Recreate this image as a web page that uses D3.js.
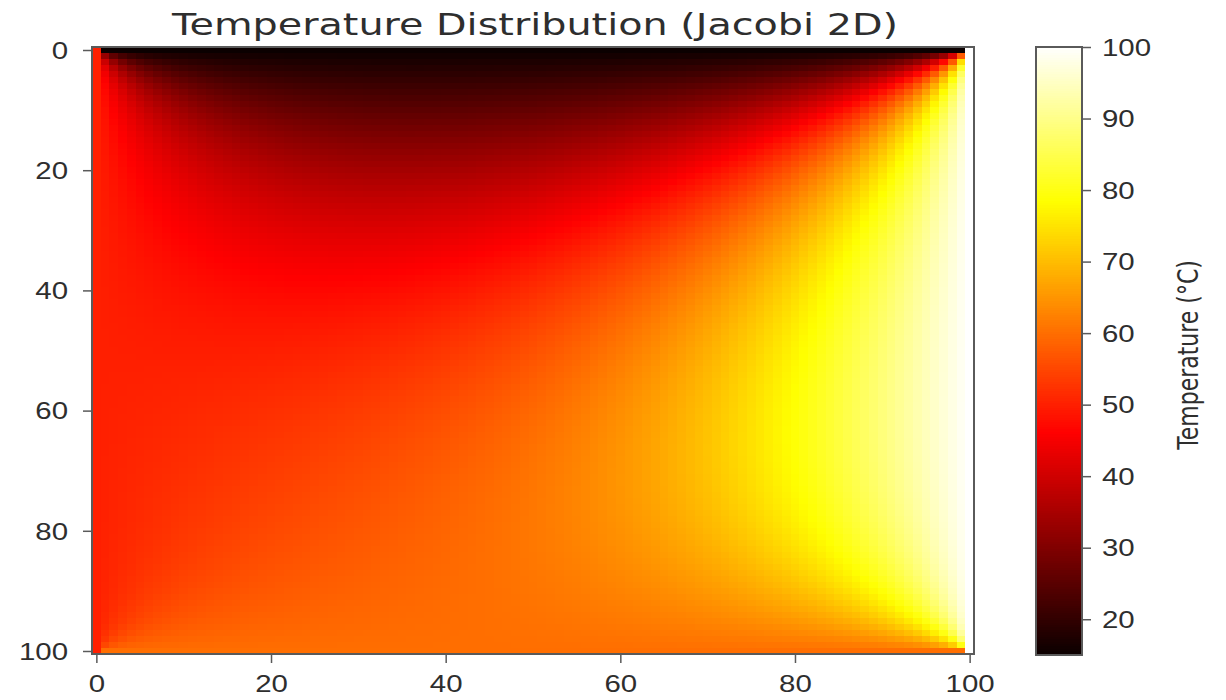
<!DOCTYPE html>
<html>
<head>
<meta charset="utf-8">
<script src="https://cdn.jsdelivr.net/npm/d3@7"></script>
<style>
  html, body { margin: 0; padding: 0; background: #fff; }
  svg { display: block; font-family: 'DejaVu Sans', sans-serif; }
</style>
</head>
<body>
<div id="chart"></div>
<script>
/* Data */
const GRID_SIZE = 101;
const boundarySides = ['top', 'bottom', 'left', 'right']; // assignment order (corners go to later sides)
const boundaryTemps = [15, 60, 50, 100];                    // °C
const xTickValues = [0, 20, 40, 60, 80, 100];
const yTickValues = [0, 20, 40, 60, 80, 100];
const colorbarTicks = [20, 30, 40, 50, 60, 70, 80, 90, 100];
const titleText = 'Temperature Distribution (Jacobi 2D)';
const colorbarLabel = 'Temperature (°C)';
const JACOBI_ITERATIONS = 20000;

/* Layout */
const WIDTH = 1226;
const HEIGHT = 700;
const plot = { left: 92, right: 974, top: 47, bottom: 654 };
const cbar = { left: 1036, right: 1082, top: 47, bottom: 655 };
const TEXT_STRETCH = 1.28; // the reference is stretched horizontally
const TEXT_COLOR = '#2e2e2e';
const SPINE_COLOR = '#5a5a5a';

// matplotlib "hot" colormap
function hot (t) {
  t = Math.max(0, Math.min(1, t));
  const r = t < 0.365079 ? 0.0416 + (1 - 0.0416) * t / 0.365079 : 1;
  const g = t < 0.365079 ? 0 : t < 0.746032 ? (t - 0.365079) / (0.746032 - 0.365079) : 1;
  const b = t < 0.746032 ? 0 : (t - 0.746032) / (1 - 0.746032);
  return d3.rgb(r * 255, g * 255, b * 255).toString();
}

// Steady state of the plate by Jacobi relaxation, from the boundary temperatures.
function solveJacobi () {
  const n = GRID_SIZE;
  const temp = Object.fromEntries(boundarySides.map((s, i) => [s, boundaryTemps[i]]));
  let u = new Float64Array(n * n).fill(d3.mean(boundaryTemps));
  const setBoundary = (arr) => {
    boundarySides.forEach(side => {
      for (let k = 0; k < n; k++) {
        if (side === 'top') arr[k] = temp.top;
        if (side === 'bottom') arr[(n - 1) * n + k] = temp.bottom;
        if (side === 'left') arr[k * n] = temp.left;
        if (side === 'right') arr[k * n + n - 1] = temp.right;
      }
    });
  };
  setBoundary(u);
  let next = u.slice();
  for (let it = 0; it < JACOBI_ITERATIONS; it++) {
    for (let i = 1; i < n - 1; i++) {
      const row = i * n;
      for (let j = 1; j < n - 1; j++) {
        next[row + j] = 0.25 * (u[row - n + j] + u[row + n + j] + u[row + j - 1] + u[row + j + 1]);
      }
    }
    const tmp = u; u = next; next = tmp;
  }
  const cells = [];
  for (let i = 0; i < n; i++) {
    for (let j = 0; j < n; j++) cells.push({ row: i, col: j, value: u[i * n + j] });
  }
  return cells;
}

const cells = solveJacobi();
const extent = d3.extent(cells, d => d.value);

const svg = d3.select('#chart')
  .append('svg')
  .attr('width', WIDTH)
  .attr('height', HEIGHT);

const xScale = d3.scaleLinear().domain([-0.5, GRID_SIZE - 0.5]).range([plot.left, plot.right]);
const yScale = d3.scaleLinear().domain([-0.5, GRID_SIZE - 0.5]).range([plot.top, plot.bottom]);
const color = d3.scaleSequential(hot).domain(extent);

// Heat map cells
svg.append('g')
  .attr('shape-rendering', 'crispEdges')
  .selectAll('rect')
  .data(cells)
  .join('rect')
  .attr('x', d => xScale(d.col - 0.5))
  .attr('y', d => yScale(d.row - 0.5))
  .attr('width', d => xScale(d.col + 0.5) - xScale(d.col - 0.5) + 0.6)
  .attr('height', d => yScale(d.row + 0.5) - yScale(d.row - 0.5) + 0.6)
  .attr('fill', d => color(d.value));

function styleAxis (g) {
  g.select('.domain').remove();
  g.selectAll('.tick line').attr('stroke', SPINE_COLOR).attr('stroke-width', 1.5);
  g.selectAll('.tick text')
    .attr('fill', TEXT_COLOR)
    .style('font-size', '23px');
}

// X axis
svg.append('g')
  .attr('transform', `translate(0,${plot.bottom})`)
  .call(d3.axisBottom(xScale).tickValues(xTickValues).tickSize(9).tickSizeOuter(0))
  .call(styleAxis)
  .call(g => g.selectAll('.tick text')
    .attr('y', 38)
    .attr('dy', 0)
    .attr('transform', `scale(${TEXT_STRETCH},1)`));

// Y axis
svg.append('g')
  .attr('transform', `translate(${plot.left},0)`)
  .call(d3.axisLeft(yScale).tickValues(yTickValues).tickSize(9).tickSizeOuter(0))
  .call(styleAxis)
  .call(g => g.selectAll('.tick text')
    .attr('x', -24 / TEXT_STRETCH)
    .attr('dy', '0.36em')
    .attr('transform', `scale(${TEXT_STRETCH},1)`));

// Frame
svg.append('rect')
  .attr('x', plot.left)
  .attr('y', plot.top)
  .attr('width', plot.right - plot.left)
  .attr('height', plot.bottom - plot.top)
  .attr('fill', 'none')
  .attr('stroke', SPINE_COLOR)
  .attr('stroke-width', 2);

// Title
svg.append('text')
  .attr('x', 535)
  .attr('y', 35)
  .attr('text-anchor', 'middle')
  .attr('textLength', 726)
  .attr('lengthAdjust', 'spacingAndGlyphs')
  .attr('fill', TEXT_COLOR)
  .style('font-size', '30px')
  .text(titleText);

// Colorbar
const cbScale = d3.scaleLinear().domain(extent).range([cbar.bottom, cbar.top]);
const cbSteps = d3.range(0, 256).map(k => extent[0] + (extent[1] - extent[0]) * k / 255);
const cbStep = (extent[1] - extent[0]) / 255;

svg.append('g')
  .attr('shape-rendering', 'crispEdges')
  .selectAll('rect')
  .data(cbSteps)
  .join('rect')
  .attr('x', cbar.left)
  .attr('width', cbar.right - cbar.left)
  .attr('y', d => cbScale(Math.min(extent[1], d + cbStep)))
  .attr('height', d => cbScale(d) - cbScale(Math.min(extent[1], d + cbStep)) + 1)
  .attr('fill', d => color(d));

svg.append('rect')
  .attr('x', cbar.left)
  .attr('y', cbar.top)
  .attr('width', cbar.right - cbar.left)
  .attr('height', cbar.bottom - cbar.top)
  .attr('fill', 'none')
  .attr('stroke', SPINE_COLOR)
  .attr('stroke-width', 2);

svg.append('g')
  .attr('transform', `translate(${cbar.right},0)`)
  .call(d3.axisRight(cbScale).tickValues(colorbarTicks).tickSize(9).tickSizeOuter(0))
  .call(styleAxis)
  .call(g => g.selectAll('.tick text')
    .attr('x', 20 / TEXT_STRETCH)
    .attr('dy', '0.36em')
    .attr('transform', `scale(${TEXT_STRETCH},1)`));

svg.append('text')
  .attr('transform', `translate(1198,355) scale(${TEXT_STRETCH},1) rotate(-90)`)
  .attr('text-anchor', 'middle')
  .attr('fill', TEXT_COLOR)
  .style('font-size', '22px')
  .text(colorbarLabel);
</script>
</body>
</html>
